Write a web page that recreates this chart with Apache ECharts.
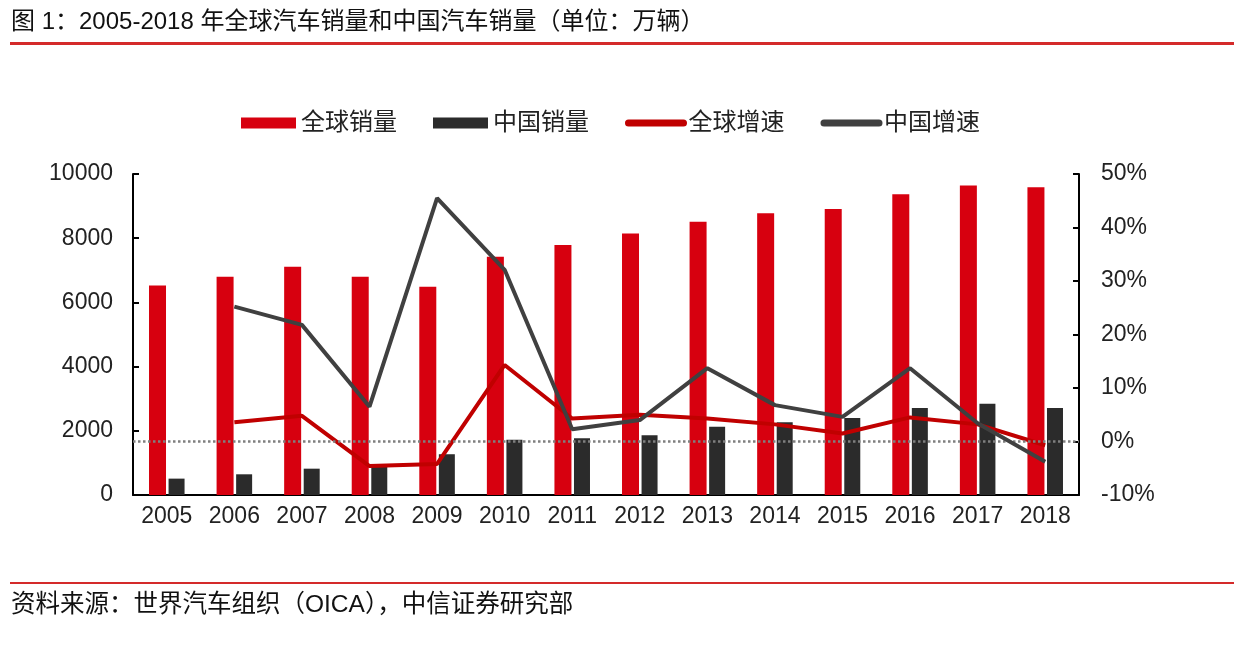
<!DOCTYPE html>
<html>
<head>
<meta charset="utf-8">
<script src="https://cdn.jsdelivr.net/npm/echarts@6/dist/echarts.min.js"></script>
<style>
html,body{margin:0;padding:0;background:#fff;}
#chart{width:1234px;height:655px;}
</style>
</head>
<body>
<div id="chart"></div>
<script>
const years = ['2005','2006','2007','2008','2009','2010','2011','2012','2013','2014','2015','2016','2017','2018'];
const globalSales = [6530, 6800, 7110, 6800, 6490, 7420, 7790, 8150, 8510, 8780, 8910, 9370, 9640, 9590];
const chinaSales = [510, 645, 820, 900, 1270, 1720, 1770, 1860, 2130, 2265, 2400, 2710, 2845, 2710];
const globalGrowth = [null, 3.6, 4.8, -4.6, -4.2, 14.3, 4.3, 5.0, 4.3, 3.2, 1.5, 4.5, 3.2, -0.7];
const chinaGrowth = [null, 25.2, 21.8, 6.5, 45.5, 32.1, 2.3, 4.0, 13.7, 6.8, 4.6, 13.7, 3.4, -3.8];
const leftTicks = {min: 0, max: 10000, interval: 2000};
const rightTicks = {min: -10, max: 50, interval: 10};
const titleText = '图 1：2005-2018 年全球汽车销量和中国汽车销量（单位：万辆）';
const sourceText = '资料来源：世界汽车组织（OICA），中信证券研究部';
const names = ['全球销量', '中国销量', '全球增速', '中国增速'];

const FONT = '"Liberation Sans", Arial, "Noto Sans CJK SC", sans-serif';
const RED = '#D7000F';
const DARK = '#2B2B2B';
const LRED = '#C00000';
const LDARK = '#404040';

const chart = echarts.init(document.getElementById('chart'), null, {renderer: 'canvas'});
chart.setOption({
  animation: false,
  backgroundColor: '#fff',
  textStyle: {fontFamily: FONT},
  graphic: [
    {type: 'text', left: 11, top: 10, style: {text: titleText, font: '24px ' + FONT, fill: '#111'}},
    {type: 'rect', shape: {x: 10, y: 42, width: 1224, height: 3}, style: {fill: '#D42A2A'}},
    {type: 'rect', shape: {x: 10, y: 582, width: 1224, height: 2}, style: {fill: '#D42A2A'}},
    {type: 'text', left: 11, top: 593, style: {text: sourceText, font: '24.5px ' + FONT, fill: '#111'}}
  ],
  legend: {
    left: 236, top: 106,
    itemWidth: 55, itemHeight: 11, itemGap: 36,
    textStyle: {fontSize: 24, color: '#222', fontFamily: FONT},
    data: [
      {name: names[0], icon: 'rect'},
      {name: names[1], icon: 'rect'},
      {name: names[2], itemStyle: {opacity: 0}, lineStyle: {width: 7, cap: 'round'}},
      {name: names[3], itemStyle: {opacity: 0}, lineStyle: {width: 7, cap: 'round'}}
    ]
  },
  grid: {left: 133, right: 155, top: 174, bottom: 160, containLabel: false},
  xAxis: {
    type: 'category', data: years,
    axisLine: {lineStyle: {color: '#000', width: 2}},
    axisTick: {show: false},
    axisLabel: {fontSize: 23, color: '#222', margin: 10, fontFamily: FONT}
  },
  yAxis: [
    {
      type: 'value', min: leftTicks.min, max: leftTicks.max, interval: leftTicks.interval,
      axisLine: {show: true, lineStyle: {color: '#000', width: 2}},
      axisTick: {show: true, inside: true, length: 6, lineStyle: {color: '#000', width: 2}},
      splitLine: {show: false},
      axisLabel: {fontSize: 23, color: '#222', margin: 20, fontFamily: FONT, formatter: function (v) { return String(v); }}
    },
    {
      type: 'value', min: rightTicks.min, max: rightTicks.max, interval: rightTicks.interval,
      position: 'right',
      axisLine: {show: true, lineStyle: {color: '#000', width: 2}},
      axisTick: {show: true, inside: true, length: 6, lineStyle: {color: '#000', width: 2}},
      splitLine: {show: false},
      axisLabel: {fontSize: 23, color: '#222', margin: 22, fontFamily: FONT, formatter: '{value}%'}
    }
  ],
  series: [
    {name: names[0], type: 'bar', data: globalSales, barWidth: 17, barGap: '15%', itemStyle: {color: RED}},
    {name: names[1], type: 'bar', data: chinaSales, barWidth: 16, itemStyle: {color: DARK}},
    {name: names[2], type: 'line', yAxisIndex: 1, data: globalGrowth, symbol: 'none', z: 4,
      lineStyle: {color: LRED, width: 4}, itemStyle: {color: LRED},
      markLine: {silent: true, symbol: 'none', label: {show: false},
        lineStyle: {type: 'dotted', color: '#7F7F7F', width: 2.5},
        data: [{yAxis: 0}]}},
    {name: names[3], type: 'line', yAxisIndex: 1, data: chinaGrowth, symbol: 'none', z: 5,
      lineStyle: {color: LDARK, width: 4}, itemStyle: {color: LDARK}}
  ]
});
</script>
</body>
</html>
